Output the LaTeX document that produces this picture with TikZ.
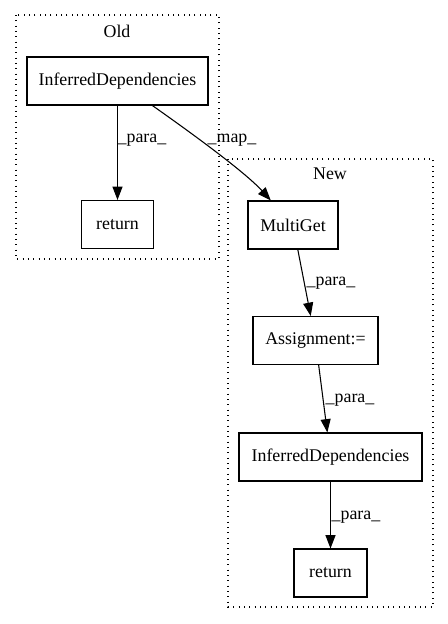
\documentclass[tikz,border=0pt]{standalone}
\usepackage{fontspec}
\setmainfont{Liberation Serif}
\usetikzlibrary{arrows.meta}
\begin{document}
\begin{tikzpicture}[x=0.75pt,y=-0.75pt,
  font=\fontsize{13.4}{16}\selectfont,
  box/.style={draw,line width=0.8pt,rectangle,minimum height=36pt,inner sep=0pt},
  cluster/.style={draw,line width=0.8pt,dash pattern=on 0.8pt off 3.2pt},
  edge/.style={draw,line width=0.8pt,-{Triangle[length=10pt,width=7.5pt]}},
  lbl/.style={inner sep=0pt}]
\useasboundingbox (0,0) rectangle (448,624);
% clusters
\draw[cluster] (16,15) rectangle (219,259);
\draw[cluster] (228,159) rectangle (433,607);
\node[lbl] (tOld) at (117,31) {Old};
\node[lbl] (tNew) at (330,174) {New};
% nodes
\node[box,minimum width=135.75pt] (oldID) at (117.5,81) {InferredDependencies};
\node[box,minimum width=54pt] (oldRet) at (117.5,224.5) {return};
\node[box,minimum width=67.5pt] (mg) at (293,225) {MultiGet};
\node[box,minimum width=93.75pt] (asg) at (315.5,340.5) {Assignment:=};
\node[box,minimum width=137.25pt] (newID) at (330.5,457) {InferredDependencies};
\node[box,minimum width=54.75pt] (newRet) at (330.5,573) {return};
% edges
\draw[edge] (oldID) -- (oldRet);
\draw[edge] (oldID) .. controls (190,132) and (245,172) .. (mg);
\draw[edge] (mg) -- (asg);
\draw[edge] (asg) -- (newID);
\draw[edge] (newID) -- (newRet);
% labels
\node[lbl] (l1) at (142,140) {\_para\_};
\node[lbl] (l2) at (232,140) {\_map\_};
\node[lbl] (l3) at (331,283) {\_para\_};
\node[lbl] (l4) at (350,400) {\_para\_};
\node[lbl] (l5) at (356,517) {\_para\_};
\end{tikzpicture}
\end{document}
